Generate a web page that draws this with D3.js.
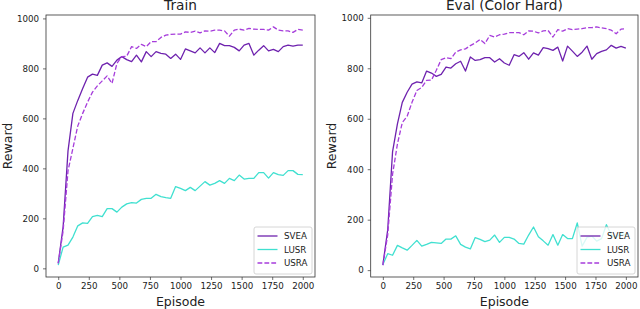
<!DOCTYPE html>
<html>
<head>
<meta charset="utf-8">
<script src="https://cdn.jsdelivr.net/npm/d3@7"></script>
<style>
  body { margin: 0; background: #fff; }
  text { font-family: "DejaVu Sans", sans-serif; fill: #222; }
</style>
</head>
<body>
<svg id="chart" width="640" height="309"></svg>
<script>
const episodes = [0, 40, 80, 120, 160, 200, 240, 280, 320, 360, 400, 440, 480, 520, 560, 600, 640, 680, 720, 760,
  800, 840, 880, 920, 960, 1000, 1040, 1080, 1120, 1160, 1200, 1240, 1280, 1320, 1360, 1400, 1440, 1480, 1520, 1560,
  1600, 1640, 1680, 1720, 1760, 1800, 1840, 1880, 1920, 1960, 2000];

const trainSvea = [20, 166, 470, 620, 672, 720, 765, 777, 772, 813, 822, 808, 833, 847, 835, 827, 853, 826, 867, 847,
  867, 860, 857, 840, 857, 836, 878, 870, 862, 882, 862, 882, 863, 900, 891, 891, 884, 870, 893, 900,
  853, 873, 891, 870, 876, 867, 887, 893, 889, 893, 893];
const trainLusr = [13, 85, 93, 125, 170, 182, 180, 207, 212, 207, 239, 239, 225, 245, 258, 263, 261, 276, 280, 280,
  296, 287, 283, 280, 327, 320, 311, 324, 311, 329, 347, 333, 340, 351, 340, 360, 351, 373, 357, 360,
  360, 383, 383, 361, 383, 375, 372, 391, 391, 376, 375];
const trainUsra = [20, 150, 390, 480, 570, 620, 665, 705, 730, 750, 770, 740, 820, 847, 849, 887, 880, 896, 887, 907,
  907, 924, 933, 936, 937, 937, 946, 944, 949, 942, 950, 949, 953, 953, 950, 929, 953, 957, 953, 960,
  957, 956, 956, 953, 966, 953, 950, 950, 944, 956, 953];

const evalSvea = [20, 160, 470, 580, 665, 705, 737, 746, 742, 789, 781, 768, 776, 805, 801, 818, 828, 789, 845, 831,
  834, 842, 842, 825, 838, 821, 812, 854, 847, 862, 836, 861, 852, 882, 878, 871, 884, 829, 888, 868,
  847, 864, 888, 836, 858, 867, 873, 891, 880, 887, 880];
const evalLusr = [22, 65, 59, 98, 88, 79, 98, 118, 95, 102, 110, 108, 106, 123, 123, 136, 102, 91, 84, 129,
  122, 113, 119, 139, 110, 130, 130, 123, 106, 103, 139, 171, 132, 116, 99, 141, 99, 141, 125, 125,
  187, 95, 130, 135, 115, 125, 180, 140, 130, 145, 140];
const evalUsra = [20, 140, 380, 500, 585, 610, 665, 712, 724, 752, 753, 792, 834, 842, 838, 864, 873, 877, 890, 900,
  914, 898, 930, 924, 933, 935, 941, 941, 941, 933, 948, 947, 940, 948, 950, 924, 953, 947, 957, 953,
  955, 957, 961, 961, 964, 960, 957, 951, 937, 955, 957];

const xTicks = [0, 250, 500, 750, 1000, 1250, 1500, 1750, 2000];
const yTicks = [0, 200, 400, 600, 800, 1000];
const seriesNames = ["SVEA", "LUSR", "USRA"];
const colors = { SVEA: "#6e22ae", LUSR: "#40e0d0", USRA: "#a63ddb" };

const svg = d3.select("#chart");

const panels = [
  { title: "Train", left: 46, right: 315, ylabelX: 12, data: [trainSvea, trainLusr, trainUsra] },
  { title: "Eval (Color Hard)", left: 370.7, right: 638, ylabelX: 336, data: [evalSvea, evalLusr, evalUsra] }
];
const plotTop = 15, plotBottom = 277;

panels.forEach(p => {
  const x = d3.scaleLinear().domain([-100, 2100]).range([p.left, p.right]);
  const all = p.data.flat();
  const lo = d3.min(all), hi = d3.max(all), pad = (hi - lo) * 0.05;
  const y = d3.scaleLinear().domain([lo - pad, hi + pad]).range([plotBottom, plotTop]);

  const g = svg.append("g");

  // lines
  const line = d3.line().x((d, i) => x(episodes[i])).y(d => y(d));
  p.data.forEach((vals, k) => {
    const name = seriesNames[k];
    g.append("path")
      .datum(vals)
      .attr("d", line)
      .attr("fill", "none")
      .attr("stroke", colors[name])
      .attr("stroke-width", 1.3)
      .attr("stroke-linejoin", "round")
      .attr("stroke-dasharray", name === "USRA" ? "4.8,2.1" : null);
  });

  // X axis
  const xa = g.append("g")
    .attr("transform", `translate(0, ${plotBottom})`)
    .call(d3.axisBottom(x).tickValues(xTicks).tickSize(3).tickPadding(3).tickFormat(d3.format("d")));
  xa.select(".domain").remove();
  xa.selectAll("text").style("font-size", "8.7px").attr("fill", "#222");
  xa.selectAll("line").attr("stroke", "#333").attr("stroke-width", 0.7);

  // Y axis
  const ya = g.append("g")
    .attr("transform", `translate(${p.left}, 0)`)
    .call(d3.axisLeft(y).tickValues(yTicks).tickSize(3).tickPadding(4).tickFormat(d3.format("d")));
  ya.select(".domain").remove();
  ya.selectAll("text").style("font-size", "8.7px").attr("fill", "#222");
  ya.selectAll("line").attr("stroke", "#333").attr("stroke-width", 0.7);

  // frame
  g.append("rect")
    .attr("x", p.left).attr("y", plotTop)
    .attr("width", p.right - p.left).attr("height", plotBottom - plotTop)
    .attr("fill", "none").attr("stroke", "#333").attr("stroke-width", 0.8);

  // title + labels
  g.append("text")
    .attr("x", (p.left + p.right) / 2).attr("y", 9.5)
    .attr("text-anchor", "middle")
    .style("font-size", "13.7px")
    .text(p.title);

  g.append("text")
    .attr("x", (p.left + p.right) / 2).attr("y", 306)
    .attr("text-anchor", "middle")
    .style("font-size", "12.5px")
    .text("Episode");

  g.append("text")
    .attr("transform", `translate(${p.ylabelX}, ${(plotTop + plotBottom) / 2}) rotate(-90)`)
    .attr("text-anchor", "middle")
    .style("font-size", "12.5px")
    .text("Reward");

  // legend
  const lw = 58, lh = 47;
  const lx = p.right - 3 - lw, ly = plotBottom - 3 - lh;
  const leg = g.append("g").attr("transform", `translate(${lx}, ${ly})`);
  leg.append("rect")
    .attr("width", lw).attr("height", lh).attr("rx", 2)
    .attr("fill", "#fff").attr("fill-opacity", 0.8)
    .attr("stroke", "#ccc").attr("stroke-width", 0.8);
  seriesNames.forEach((name, k) => {
    const ry = 9 + k * 13.5;
    leg.append("line")
      .attr("x1", 3.5).attr("x2", 23.5).attr("y1", ry).attr("y2", ry)
      .attr("stroke", colors[name]).attr("stroke-width", 1.3)
      .attr("stroke-dasharray", name === "USRA" ? "4.8,2.1" : null);
    leg.append("text")
      .attr("x", 30).attr("y", ry)
      .attr("dominant-baseline", "central")
      .style("font-size", "8.7px")
      .text(name);
  });
});
</script>
</body>
</html>
